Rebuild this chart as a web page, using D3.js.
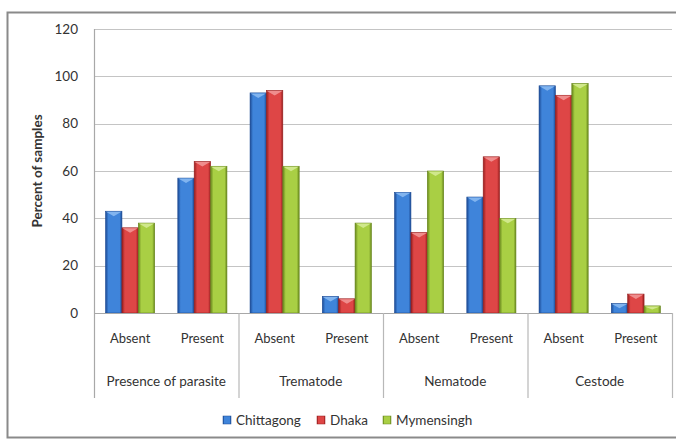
<!DOCTYPE html>
<html>
<head>
<meta charset="utf-8">
<script src="https://cdn.jsdelivr.net/npm/d3@7"></script>
<style>
  html, body { margin: 0; padding: 0; background: #ffffff; }
  svg { display: block; }
  text { font-family: Lato, "Open Sans", sans-serif; fill: #333333; }
</style>
</head>
<body>
<svg id="chart" width="676" height="441"></svg>
<script>
// Parasite occurrence by district (percent of samples)
const groups = ["Presence of parasite", "Trematode", "Nematode", "Cestode"];
const states = ["Absent", "Present"];
const series = ["Chittagong", "Dhaka", "Mymensingh"];

const chittagong = [43, 57, 93, 7, 51, 49, 96, 4];
const dhaka      = [36, 64, 94, 6, 34, 66, 92, 8];
const mymensingh = [38, 62, 62, 38, 60, 40, 97, 3];

const yTicks = [0, 20, 40, 60, 80, 100, 120];
const yTitle = "Percent of samples";

const palette = {
  Chittagong: { mid: "#3f84da", edge: "#1b4a94", cap: "#8dbcf2" },
  Dhaka:      { mid: "#de4646", edge: "#961d1d", cap: "#f29a9a" },
  Mymensingh: { mid: "#a9cf44", edge: "#67861c", cap: "#d7ec98" }
};

const valuesBySeries = { Chittagong: chittagong, Dhaka: dhaka, Mymensingh: mymensingh };

// one category per (group, state) pair
const categories = [];
groups.forEach(g => states.forEach(s => categories.push(g + "|" + s)));

const svg = d3.select("#chart");
const margin = { left: 94, top: 29, plotBottom: 313 };
const plotRight = 672;

const x = d3.scaleBand()
  .domain(categories)
  .range([margin.left, plotRight])
  .paddingInner(0.32)
  .paddingOuter(0.16);

const xs = d3.scaleBand()
  .domain(series)
  .range([0, x.bandwidth()]);

const y = d3.scaleLinear()
  .domain([0, 120])
  .range([margin.plotBottom, margin.top]);

// gradients
const defs = svg.append("defs");
series.forEach((s, i) => {
  const c = palette[s];
  const g = defs.append("linearGradient")
    .attr("id", "grad" + i).attr("x1", "0%").attr("x2", "100%").attr("y1", "0%").attr("y2", "0%");
  g.append("stop").attr("offset", "0%").attr("stop-color", c.edge);
  g.append("stop").attr("offset", "18%").attr("stop-color", c.mid);
  g.append("stop").attr("offset", "85%").attr("stop-color", c.mid);
  g.append("stop").attr("offset", "100%").attr("stop-color", c.edge);
});

// outer frame
svg.append("rect")
  .attr("x", 7.5).attr("y", 12.5)
  .attr("width", 676).attr("height", 425)
  .attr("fill", "#ffffff")
  .attr("stroke", "#8a8a8a").attr("stroke-width", 2);

// horizontal gridlines
svg.append("g")
  .selectAll("line")
  .data(yTicks.filter(t => t > 0))
  .join("line")
  .attr("x1", margin.left).attr("x2", plotRight)
  .attr("y1", d => Math.round(y(d)) + 0.5).attr("y2", d => Math.round(y(d)) + 0.5)
  .attr("stroke", "#c4c4c4").attr("stroke-width", 1.2);

// y axis tick labels
const yAxis = d3.axisLeft(y).tickValues(yTicks).tickSize(0).tickPadding(16);
const yg = svg.append("g")
  .attr("transform", `translate(${margin.left},0)`)
  .call(yAxis);
yg.select(".domain").remove();
yg.selectAll("text")
  .style("font-family", "Lato, 'Open Sans', sans-serif")
  .style("font-size", "13.5px")
  .attr("fill", "#333333");

// y axis title
svg.append("text")
  .attr("transform", `translate(42,${(margin.top + margin.plotBottom) / 2}) rotate(-90)`)
  .attr("text-anchor", "middle")
  .style("font-size", "13.5px")
  .style("font-weight", "bold")
  .attr("fill", "#1a1a1a")
  .text(yTitle);

// bars
const barData = [];
series.forEach((s, si) => {
  valuesBySeries[s].forEach((v, ci) => {
    barData.push({ series: s, si, cat: categories[ci], value: v });
  });
});

const bars = svg.append("g").selectAll("g")
  .data(barData)
  .join("g")
  .attr("transform", d => `translate(${x(d.cat) + xs(d.series)},0)`);

bars.append("rect")
  .attr("x", 0)
  .attr("y", d => y(d.value))
  .attr("width", xs.bandwidth())
  .attr("height", d => y(0) - y(d.value))
  .attr("fill", d => `url(#grad${d.si})`)
  .attr("stroke", d => palette[d.series].edge)
  .attr("stroke-width", 0.6);

// bevelled cap on top of each bar
bars.append("path")
  .attr("d", d => {
    const w = xs.bandwidth();
    const t = y(d.value);
    const h = Math.min(5, (y(0) - t) / 2);
    return `M0.5,${t + 0.5} L${w - 0.5},${t + 0.5} L${w * 0.5},${t + h} Z`;
  })
  .attr("fill", d => palette[d.series].cap)
  .attr("opacity", 0.85);

// x axis baseline
svg.append("line")
  .attr("x1", margin.left).attr("x2", plotRight)
  .attr("y1", y(0) + 0.5).attr("y2", y(0) + 0.5)
  .attr("stroke", "#a8a8a8").attr("stroke-width", 1.2);

// left axis line
svg.append("line")
  .attr("x1", margin.left + 0.5).attr("x2", margin.left + 0.5)
  .attr("y1", margin.top).attr("y2", 398)
  .attr("stroke", "#a8a8a8").attr("stroke-width", 1.2);

// group dividers below the axis
const groupEdges = d3.range(groups.length + 1).map(i =>
  margin.left + i * (plotRight - margin.left) / groups.length);
svg.append("g").selectAll("line")
  .data(groupEdges.slice(1))
  .join("line")
  .attr("x1", d => d + 0.5).attr("x2", d => d + 0.5)
  .attr("y1", y(0)).attr("y2", 398)
  .attr("stroke", "#b8b8b8").attr("stroke-width", 1.2);

// state labels
svg.append("g").selectAll("text")
  .data(categories)
  .join("text")
  .attr("x", d => x(d) + x.bandwidth() / 2)
  .attr("y", 338)
  .attr("dy", "0.35em")
  .attr("text-anchor", "middle")
  .style("font-size", "13px")
  .text(d => d.split("|")[1]);

// group labels
svg.append("g").selectAll("text")
  .data(groups)
  .join("text")
  .attr("x", (d, i) => (groupEdges[i] + groupEdges[i + 1]) / 2)
  .attr("y", 381)
  .attr("dy", "0.35em")
  .attr("text-anchor", "middle")
  .style("font-size", "13.5px")
  .text(d => d);

// legend
const legendX = [223, 317, 383];
const legend = svg.append("g").selectAll("g")
  .data(series)
  .join("g")
  .attr("transform", (d, i) => `translate(${legendX[i]},420)`);
legend.append("rect")
  .attr("x", 0).attr("y", -4)
  .attr("width", 8).attr("height", 8)
  .attr("fill", (d, i) => `url(#grad${i})`)
  .attr("stroke", d => palette[d].edge).attr("stroke-width", 0.5);
legend.append("text")
  .attr("x", 13).attr("y", 0)
  .attr("dy", "0.35em")
  .style("font-size", "13.5px")
  .text(d => d);
</script>
</body>
</html>
